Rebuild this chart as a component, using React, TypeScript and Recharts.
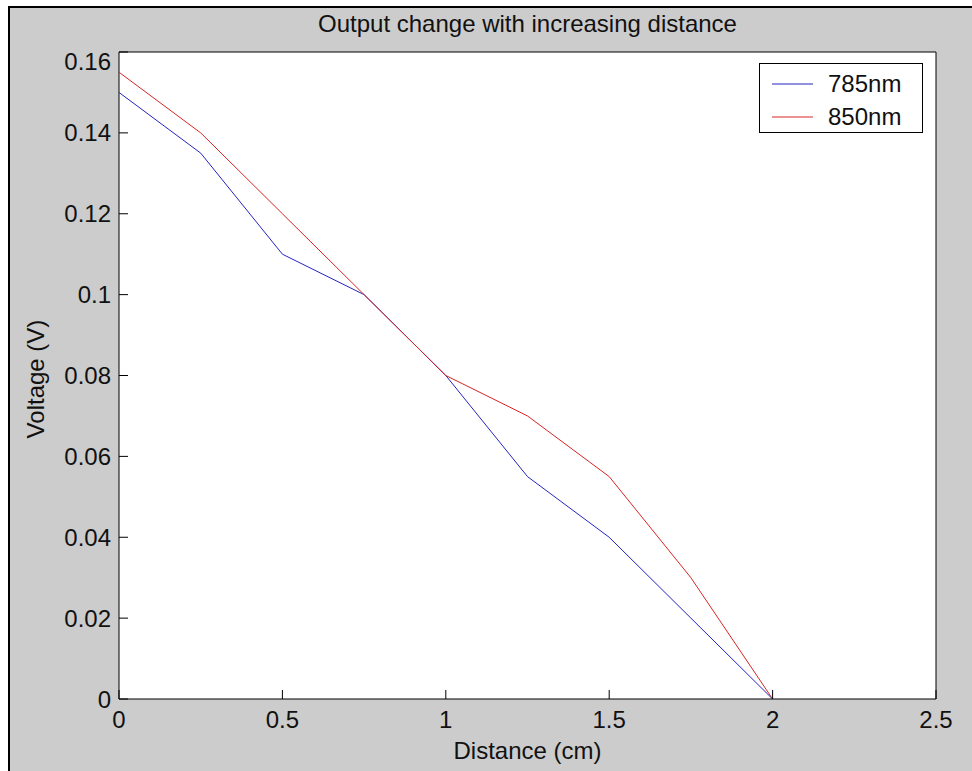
import React from "react";
import {
  LineChart,
  Line,
  XAxis,
  YAxis,
  ReferenceArea,
  Legend,
} from "recharts";

// distance (cm) and measured voltage (V) for each wavelength
const distance = [0, 0.25, 0.5, 0.75, 1, 1.25, 1.5, 1.75, 2];
const v785 = [0.15, 0.135, 0.11, 0.1, 0.08, 0.055, 0.04, 0.02, 0];
const v850 = [0.155, 0.14, 0.12, 0.1, 0.08, 0.07, 0.055, 0.03, 0];

const xTicks = [0, 0.5, 1, 1.5, 2, 2.5];
const yTicks = [0, 0.02, 0.04, 0.06, 0.08, 0.1, 0.12, 0.14, 0.16];

const data = distance.map((d, i) => ({ d, a: v785[i], b: v850[i] }));

const FONT = "'Liberation Sans', Arial, sans-serif";
const INK = "#111";
const TICK = 9;

// chart geometry (relative to chart origin)
const W = 964;
const H = 763;
const PLOT_L = 111;
const PLOT_T = 45;
const PLOT_W = 817;
const PLOT_H = 647;

function BottomTick({ x, y, payload }: any) {
  return (
    <g>
      <line x1={x} y1={y} x2={x} y2={y - TICK} stroke="#000" />
      <text x={x} y={y + 29} textAnchor="middle" fontFamily={FONT} fontSize={24} fill={INK}>
        {String(payload.value)}
      </text>
    </g>
  );
}

function TopTick({ x, y }: any) {
  return <line x1={x} y1={y} x2={x} y2={y + TICK} stroke="#000" />;
}

function LeftTick({ x, y, payload }: any) {
  // matlab pushes the topmost label down a bit
  const shift = payload.value === yTicks[yTicks.length - 1] ? 9 : 0;
  return (
    <g>
      <line x1={x} y1={y} x2={x + TICK} y2={y} stroke="#000" />
      <text x={x - 8} y={y + 8.5 + shift} textAnchor="end" fontFamily={FONT} fontSize={24} fill={INK}>
        {String(payload.value)}
      </text>
    </g>
  );
}

function RightTick({ x, y }: any) {
  return <line x1={x} y1={y} x2={x - TICK} y2={y} stroke="#000" />;
}

function LegendBox({ payload }: any) {
  return (
    <div
      style={{
        width: 164,
        height: 70,
        boxSizing: "border-box",
        border: "1px solid #000",
        background: "#fff",
        paddingTop: 3,
        fontFamily: FONT,
        fontSize: 24,
        color: INK,
      }}
    >
      {(payload || []).map((p: any) => (
        <div key={p.value} style={{ display: "flex", alignItems: "center", height: 33, paddingLeft: 12 }}>
          <svg width={41} height={4} style={{ display: "block" }}>
            <line x1={0} y1={2} x2={41} y2={2} stroke={p.color} strokeWidth={1} />
          </svg>
          <span style={{ marginLeft: 15, lineHeight: "24px" }}>{p.value}</span>
        </div>
      ))}
    </div>
  );
}

export default function App() {
  return (
    <div
      style={{
        position: "absolute",
        left: 8,
        top: 6,
        width: 964,
        height: 765,
        boxSizing: "border-box",
        background: "#CCCCCC",
        borderTop: "2px solid #000",
        borderLeft: "2px solid #000",
      }}
    >
      <div style={{ position: "absolute", left: -2, top: -1, width: W, height: H }}>
        <div
          style={{
            position: "absolute",
            left: PLOT_L,
            top: 5,
            width: PLOT_W,
            textAlign: "center",
            fontFamily: FONT,
            fontSize: 24,
            lineHeight: "24px",
            color: INK,
          }}
        >
          Output change with increasing distance
        </div>

        <LineChart
          width={W}
          height={H}
          data={data}
          margin={{ top: PLOT_T, right: W - PLOT_L - PLOT_W, bottom: H - PLOT_T - PLOT_H - 60, left: PLOT_L - 100 }}
        >
          <XAxis
            dataKey="d"
            type="number"
            domain={[0, 2.5]}
            ticks={xTicks}
            interval={0}
            allowDataOverflow
            axisLine={false}
            tickLine={false}
            tickSize={0}
            tickMargin={0}
            height={60}
            tick={(p: any) => <BottomTick {...p} />}
          />
          <XAxis
            xAxisId="top"
            dataKey="d"
            type="number"
            orientation="top"
            domain={[0, 2.5]}
            ticks={xTicks}
            interval={0}
            allowDataOverflow
            axisLine={false}
            tickLine={false}
            tickSize={0}
            tickMargin={0}
            height={0}
            tick={(p: any) => <TopTick {...p} />}
          />
          <YAxis
            type="number"
            domain={[0, 0.16]}
            ticks={yTicks}
            interval={0}
            allowDataOverflow
            axisLine={false}
            tickLine={false}
            tickSize={0}
            tickMargin={0}
            width={100}
            tick={(p: any) => <LeftTick {...p} />}
          />
          <YAxis
            yAxisId="right"
            type="number"
            orientation="right"
            domain={[0, 0.16]}
            ticks={yTicks}
            interval={0}
            allowDataOverflow
            axisLine={false}
            tickLine={false}
            tickSize={0}
            tickMargin={0}
            width={0}
            tick={(p: any) => <RightTick {...p} />}
          />
          <ReferenceArea
            x1={0}
            x2={2.5}
            y1={0}
            y2={0.16}
            fill="#fff"
            fillOpacity={1}
            stroke="#000"
            strokeWidth={1}
            ifOverflow="visible"
          />
          <Line
            dataKey="a"
            name="785nm"
            type="linear"
            stroke="#2424C0"
            strokeWidth={1}
            dot={false}
            isAnimationActive={false}
          />
          <Line
            dataKey="b"
            name="850nm"
            type="linear"
            stroke="#D82424"
            strokeWidth={1}
            dot={false}
            isAnimationActive={false}
          />
          <Legend
            layout="vertical"
            align="center"
            verticalAlign="middle"
            wrapperStyle={{ position: "absolute", left: 751, top: 56, width: 164, height: 70 }}
            content={(p: any) => <LegendBox {...p} />}
          />
        </LineChart>

        <div
          style={{
            position: "absolute",
            left: PLOT_L,
            top: 732,
            width: PLOT_W,
            textAlign: "center",
            fontFamily: FONT,
            fontSize: 24,
            lineHeight: "24px",
            color: INK,
          }}
        >
          Distance (cm)
        </div>
        <div
          style={{
            position: "absolute",
            left: 28 - 100,
            top: 372 - 12,
            width: 200,
            height: 24,
            textAlign: "center",
            fontFamily: FONT,
            fontSize: 24,
            lineHeight: "24px",
            color: INK,
            transform: "rotate(-90deg)",
          }}
        >
          Voltage (V)
        </div>
      </div>
    </div>
  );
}
